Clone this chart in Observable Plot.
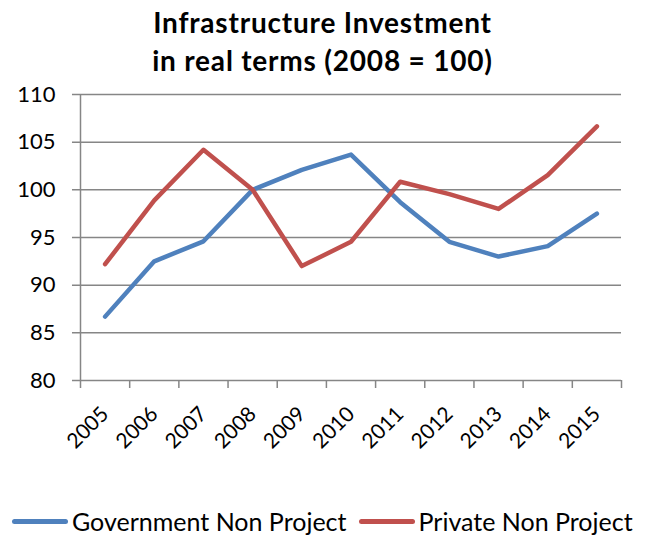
<!DOCTYPE html>
<html><head><meta charset="utf-8">
<script src="https://cdn.jsdelivr.net/npm/d3@7"></script>
<script src="https://cdn.jsdelivr.net/npm/@observablehq/plot@0.6"></script>
<style>
body{margin:0;background:#fff;font-family:Lato,"Open Sans",sans-serif;}
#wrap{width:653px;height:535px;position:relative;overflow:hidden;}
#title{height:75px;text-align:center;font-weight:bold;font-size:28px;letter-spacing:0.8px;line-height:38px;padding-top:3px;padding-right:8px;box-sizing:border-box;color:#000;}
#chart svg{overflow:visible;}
#legend{position:absolute;top:507px;left:0;width:653px;height:28px;display:flex;align-items:center;font-size:25px;line-height:28px;color:#000;white-space:nowrap;}
.sw{display:inline-block;width:56px;height:5px;border-radius:2.5px;margin-right:4px;}
</style></head>
<body><div id="wrap">
<div id="title">Infrastructure Investment<br>in real terms (2008 = 100)</div>
<div id="chart"></div>
<div id="legend"></div>
</div>
<script>
const years = [2005,2006,2007,2008,2009,2010,2011,2012,2013,2014,2015];
const government = [86.7,92.5,94.6,100,102.1,103.7,98.7,94.55,93.0,94.1,97.5];
const privateVals = [92.2,98.9,104.2,100,92.0,94.55,100.85,99.55,98.0,101.55,106.65];
const seriesNames = ["Government Non Project","Private Non Project"];
const colors = ["#4F81BD","#C0504D"];
const yTicks = [80,85,90,95,100,105,110];

const data = [];
years.forEach((y,i)=>{
  data.push({year:y, value:government[i], series:seriesNames[0]});
  data.push({year:y, value:privateVals[i], series:seriesNames[1]});
});
const bounds = [...years.map(y=>y-0.5), years[years.length-1]+0.5];

const chart = Plot.plot({
  width:653, height:430,
  marginLeft:80, marginRight:32, marginTop:19, marginBottom:125,
  style:{fontFamily:"Lato, 'Open Sans', sans-serif", fontSize:"20px", color:"#000", background:"transparent", overflow:"visible"},
  x:{type:"linear", domain:[bounds[0], bounds[bounds.length-1]]},
  y:{domain:[80,110]},
  color:{domain:seriesNames, range:colors},
  marks:[
    Plot.gridY(yTicks,{stroke:"#868686", strokeOpacity:1, strokeWidth:1.5, x1:bounds[0]-0.163, x2:bounds[bounds.length-1]}),
    Plot.ruleX([bounds[0]],{y1:80,y2:110,stroke:"#868686",strokeWidth:1.5}),
    Plot.axisY(yTicks,{tickSize:0, tickPadding:25, fontSize:22, label:null}),
    Plot.axisX(bounds,{tickSize:8, tickFormat:()=>"", stroke:"#868686", strokeWidth:1.5, label:null}),
    Plot.axisX(years,{tickSize:0, tickRotate:-45, tickPadding:30, tickFormat:d=>String(d), fontSize:21, label:null}),
    Plot.line(data,{x:"year", y:"value", z:"series", stroke:"series", strokeWidth:4.5, strokeLinejoin:"round", strokeLinecap:"round"})
  ]
});
document.getElementById("chart").appendChild(chart);

const leg = document.getElementById("legend");
leg.style.paddingLeft = "12px";
seriesNames.forEach((n,i)=>{
  const s = document.createElement("span"); s.className="sw"; s.style.background=colors[i];
  const t = document.createElement("span"); t.textContent=n; t.style.marginRight = i===0?"12px":"0";
  leg.appendChild(s); leg.appendChild(t);
});
</script>
</body></html>
